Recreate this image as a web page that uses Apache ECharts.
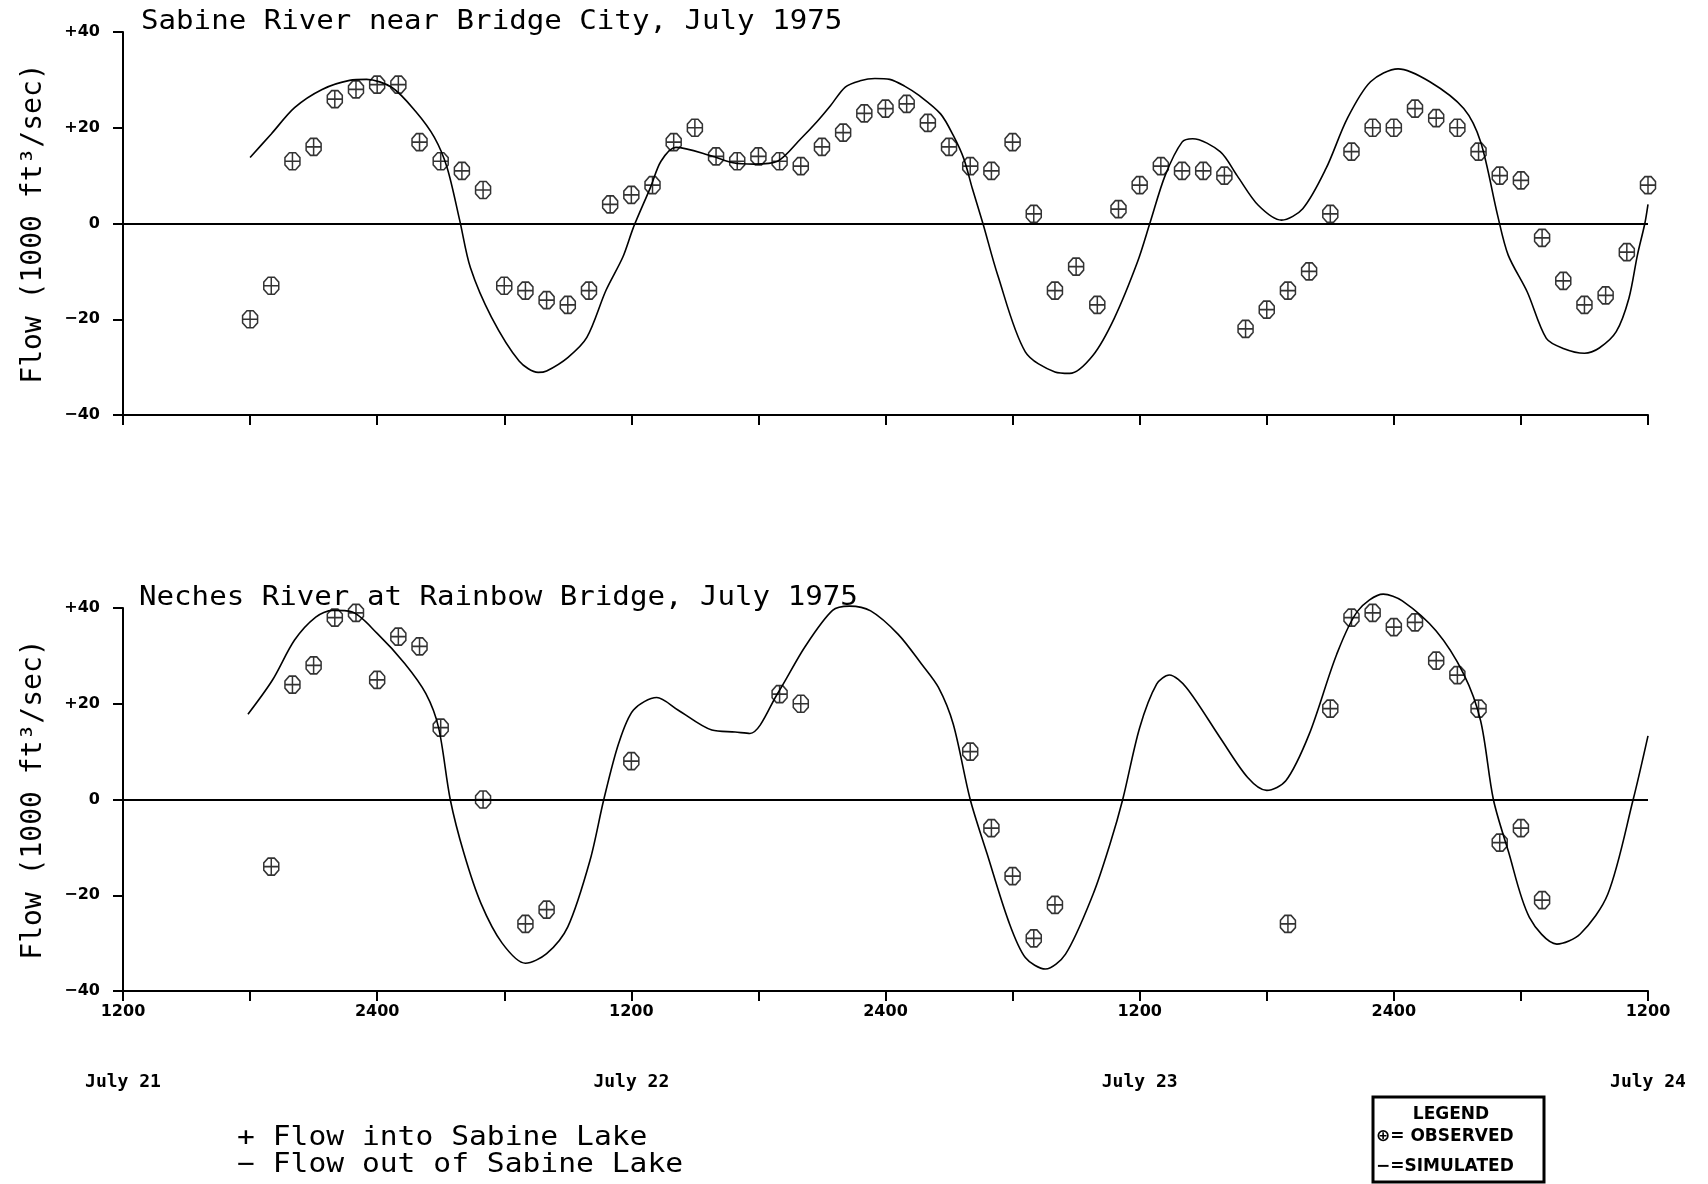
<!DOCTYPE html>
<html>
<head>
<meta charset="utf-8">
<title>Flow, July 1975</title>
<script src="https://cdn.jsdelivr.net/npm/echarts@6/dist/echarts.min.js"></script>
<style>
  html, body { margin: 0; padding: 0; background: #fff; }
  #main { width: 1708px; height: 1184px; }
</style>
</head>
<body>
<div id="main"></div>
<script>
// hours are counted from 1200 on July 21
const hourLabels = ['1200', '2400'];
const dayLabels = ['July 21', 'July 22', 'July 23', 'July 24'];

// Sabine River near Bridge City
const obsTopHours = [6, 7, 8, 9, 10, 11, 12, 13, 14, 15, 16, 17, 18, 19, 20, 21, 22, 23, 24, 25, 26, 27, 28, 29, 30, 31, 32, 33, 34, 35, 36, 37, 38, 39,
  40, 41, 42, 43, 44, 45, 46, 47, 48, 49, 50, 51, 52, 53, 54, 55, 56, 57, 58, 59, 60, 61, 62, 63, 64, 65, 66, 67, 68, 69, 70, 71, 72];
const obsTopFlow = [-20, -13, 13, 16, 26, 28, 29, 29, 17, 13, 11, 7, -13, -14, -16, -17, -14, 4, 6, 8, 17, 20, 14, 13, 14, 13, 12, 16, 19, 23, 24, 25, 21, 16,
  12, 11, 17, 2, -14, -9, -17, 3, 8, 12, 11, 11, 10, -22, -18, -14, -10, 2, 15, 20, 20, 24, 22, 20, 15, 10, 9, -3, -12, -17, -15, -6, 8];
const simTopHours = [6, 7, 8.1, 9.4, 10.7, 11.5, 12.7, 13.8, 14.7, 15.3, 15.9, 16.4, 17.4, 18.7, 19.6, 20.0, 21.0, 21.9, 22.8, 23.6,
  24.1, 24.9, 25.4, 26.1, 27.8, 28.8, 29.8, 30.9, 32.0, 32.75, 33.4, 34.1, 34.8, 35.5, 36.2, 36.9, 37.6, 38.6, 39.2, 39.7,
  40.1, 40.6, 41.3, 42.6, 44.0, 44.7, 45.8, 46.8, 47.9, 48.5, 49.2, 50.0, 50.5, 51.8, 52.6, 53.6, 54.7, 55.7, 56.8, 57.8,
  58.9, 60.2, 61.7, 63.3, 64.1, 64.9, 65.4, 66.3, 67.2, 68.0, 69.0, 69.7, 70.5, 71.1, 71.5, 71.85, 72];
const simTopFlow = [13.8, 18.7, 24.2, 28, 29.9, 30.1, 28.4, 23.5, 18, 11.7, 0.6, -9.2, -19.6, -28.7, -31.1, -30.8, -28, -23.8, -14, -7,
  -0.8, 7.5, 13, 15.9, 14.1, 12.7, 12.4, 13, 17.7, 21.2, 24.6, 28.5, 29.8, 30.3, 30.1, 28.7, 26.7, 22.9, 18.4, 13.5,
  7.3, 0, -10.8, -26.8, -31, -31.3, -27.5, -19.8, -8, 0.3, 10, 17, 17.7, 15, 10, 3.8, 0.7, 3.1, 11.5, 21.9,
  29.6, 32.3, 29.6, 24, 17, 1.7, -6.6, -14.3, -24, -26.1, -27.1, -26, -22.6, -15.6, -6.6, 0, 4];

// Neches River at Rainbow Bridge
const obsBotHours = [7, 8, 9, 10, 11, 12, 13, 14, 15, 17, 19, 20, 24, 31, 32, 40, 41, 42, 43, 44, 55, 57, 58, 59, 60, 61, 62, 63, 64, 65, 66, 67];
const obsBotFlow = [-14, 24, 28, 38, 39, 25, 34, 32, 15, 0, -26, -23, 8, 22, 20, 10, -6, -16, -29, -22, -26, 19, 38, 39, 36, 37, 29, 26, 19, -9, -6, -21];
const simBotHours = [5.9, 7.05, 8.1, 9.1, 9.9, 10.8, 12.0, 13.3, 14.3, 14.9, 15.45, 16.1, 16.9, 17.9, 19.0, 20.0, 21.0, 22.05, 22.7, 23.4,
  24.1, 25.2, 26.2, 27.8, 28.9, 29.6, 30.9, 32.2, 33.5, 34.3, 35.3, 36.6, 37.7, 38.5, 39.2, 40.0, 40.8, 41.8, 42.6, 43.55,
  44.5, 45.8, 46.6, 47.2, 48.0, 48.8, 49.4, 50.2, 51.8, 53.1, 54.0, 54.9, 56.0, 57.3, 58.3, 59.5, 60.4, 62.0, 63.3, 64.1,
  64.7, 65.4, 66.4, 67.7, 68.8, 70.1, 71.3, 72.0];
const simBotFlow = [17.8, 24.9, 33.3, 38.1, 39.5, 39.2, 34.7, 28.4, 22.1, 15, 0, -11.3, -21.7, -30, -34.2, -32.2, -26.6, -12.7, 0, 11.7,
  18.7, 21.3, 18.7, 14.5, 14.1, 13.8, 22.1, 31.9, 39.5, 40.4, 39.4, 34.5, 28.3, 23.4, 15.7, 0, -11.4, -25.3, -33, -35.4,
  -32.3, -19.8, -9.3, 0, 15, 24.1, 26, 23.4, 12.9, 4.6, 1.9, 3.9, 13.6, 30.3, 39.4, 42.9, 41.5, 35.2, 26.2, 16.4,
  0, -10.7, -24.6, -30.2, -28.1, -19.8, 0, 13.3];

function pairs(xs, ys) {
  return xs.map(function (x, i) { return [x, ys[i]]; });
}

// circle with a cross, as drawn by the plotter
const obsSymbol = 'path://M15.4,4.9L11.1,0.6L4.9,0.6L0.6,4.9L0.6,11.1L4.9,15.4L11.1,15.4L15.4,11.1Z' +
  'M0.6,8L15.4,8M8,0.6L8,15.4';

const chart = echarts.init(document.getElementById('main'), null, { renderer: 'canvas' });

function xAxisFor(grid, showLabels) {
  return {
    type: 'value', gridIndex: grid, min: 0, max: 72, interval: 6,
    axisLine: { onZero: false, lineStyle: { color: '#000', width: 2 } },
    axisTick: { length: 10, lineStyle: { color: '#000', width: 2 } },
    axisLabel: {
      show: showLabels, margin: 13, color: '#000',
      fontFamily: 'DejaVu Sans', fontWeight: 'bold', fontSize: 16,
      showMinLabel: true, showMaxLabel: true,
      formatter: function (v) { return v % 12 === 0 ? hourLabels[(v / 12) % 2] : ''; }
    },
    splitLine: { show: false }
  };
}

function yAxisFor(grid) {
  return {
    type: 'value', gridIndex: grid, min: -40, max: 40, interval: 20,
    name: 'Flow (1000 ft³/sec)', nameLocation: 'middle', nameGap: 75,
    nameTextStyle: { fontFamily: 'DejaVu Sans Mono', fontSize: 28, color: '#000' },
    axisLine: { lineStyle: { color: '#000', width: 2 } },
    axisTick: { length: 10, lineStyle: { color: '#000', width: 2 } },
    axisLabel: {
      margin: 23, color: '#000', fontFamily: 'DejaVu Sans', fontWeight: 'bold', fontSize: 16,
      formatter: function (v) { return v > 0 ? '+' + v : (v < 0 ? '\u2212' + (-v) : '0'); }
    },
    splitLine: { show: false }
  };
}

const zeroLine = {
  silent: true, symbol: ['none', 'none'], label: { show: false },
  lineStyle: { color: '#000', width: 2, type: 'solid' },
  data: [{ yAxis: 0 }]
};

function simSeries(axis, data) {
  return {
    name: 'SIMULATED', type: 'line', xAxisIndex: axis, yAxisIndex: axis,
    data: data, smooth: 0.3, showSymbol: false, clip: false,
    lineStyle: { color: '#000', width: 1.6 },
    markLine: zeroLine, animation: false
  };
}

function obsSeries(axis, data) {
  return {
    name: 'OBSERVED', type: 'scatter', xAxisIndex: axis, yAxisIndex: axis,
    data: data, symbol: obsSymbol, symbolSize: [15, 17], clip: false,
    itemStyle: { color: 'rgba(0,0,0,0)', borderColor: '#000', borderWidth: 1.6 },
    animation: false
  };
}

const titleFont = { fontFamily: 'DejaVu Sans Mono', fontSize: 26, fill: '#000' };
const noteFont = { fontFamily: 'DejaVu Sans Mono', fontSize: 26, fill: '#000' };
const boxFont = { fontFamily: 'DejaVu Sans', fontWeight: 'bold', fontSize: 17, fill: '#000' };

const option = {
  backgroundColor: '#fff',
  animation: false,
  grid: [
    { left: 123, top: 32, width: 1525, height: 383 },
    { left: 123, top: 608, width: 1525, height: 383 }
  ],
  xAxis: [
    xAxisFor(0, false),
    xAxisFor(1, true),
    {
      type: 'value', gridIndex: 1, min: 0, max: 72, interval: 24, position: 'bottom', offset: 78,
      axisLine: { show: false }, axisTick: { show: false }, splitLine: { show: false },
      axisLabel: {
        margin: 4, color: '#000', fontFamily: 'DejaVu Sans Mono', fontWeight: 'bold', fontSize: 18,
        showMinLabel: true, showMaxLabel: true,
        formatter: function (v) { return dayLabels[v / 24] || ''; }
      }
    }
  ],
  yAxis: [yAxisFor(0), yAxisFor(1)],
  series: [
    simSeries(0, pairs(simTopHours, simTopFlow)),
    obsSeries(0, pairs(obsTopHours, obsTopFlow)),
    simSeries(1, pairs(simBotHours, simBotFlow)),
    obsSeries(1, pairs(obsBotHours, obsBotFlow))
  ],
  graphic: [
    { type: 'text', x: 141, y: 22, scaleX: 1.12, style: Object.assign({ text: 'Sabine River near Bridge City, July 1975', textVerticalAlign: 'middle' }, titleFont) },
    { type: 'text', x: 139, y: 598, scaleX: 1.12, style: Object.assign({ text: 'Neches River at Rainbow Bridge, July 1975', textVerticalAlign: 'middle' }, titleFont) },
    { type: 'text', x: 237, y: 1138, scaleX: 1.14, style: Object.assign({ text: '+ Flow into Sabine Lake', textVerticalAlign: 'middle' }, noteFont) },
    { type: 'text', x: 237, y: 1165, scaleX: 1.14, style: Object.assign({ text: '\u2212 Flow out of Sabine Lake', textVerticalAlign: 'middle' }, noteFont) },
    { type: 'rect', shape: { x: 1373, y: 1097, width: 171, height: 85 }, style: { fill: '#fff', stroke: '#000', lineWidth: 3 } },
    { type: 'text', x: 1451, y: 1115, style: Object.assign({ text: 'LEGEND', textAlign: 'center', textVerticalAlign: 'middle' }, boxFont) },
    { type: 'text', x: 1376, y: 1137, style: Object.assign({ text: '\u2295= OBSERVED', textVerticalAlign: 'middle' }, boxFont) },
    { type: 'text', x: 1376, y: 1167, style: Object.assign({ text: '\u2212=SIMULATED', textVerticalAlign: 'middle' }, boxFont) }
  ]
};

chart.setOption(option);
</script>
</body>
</html>
